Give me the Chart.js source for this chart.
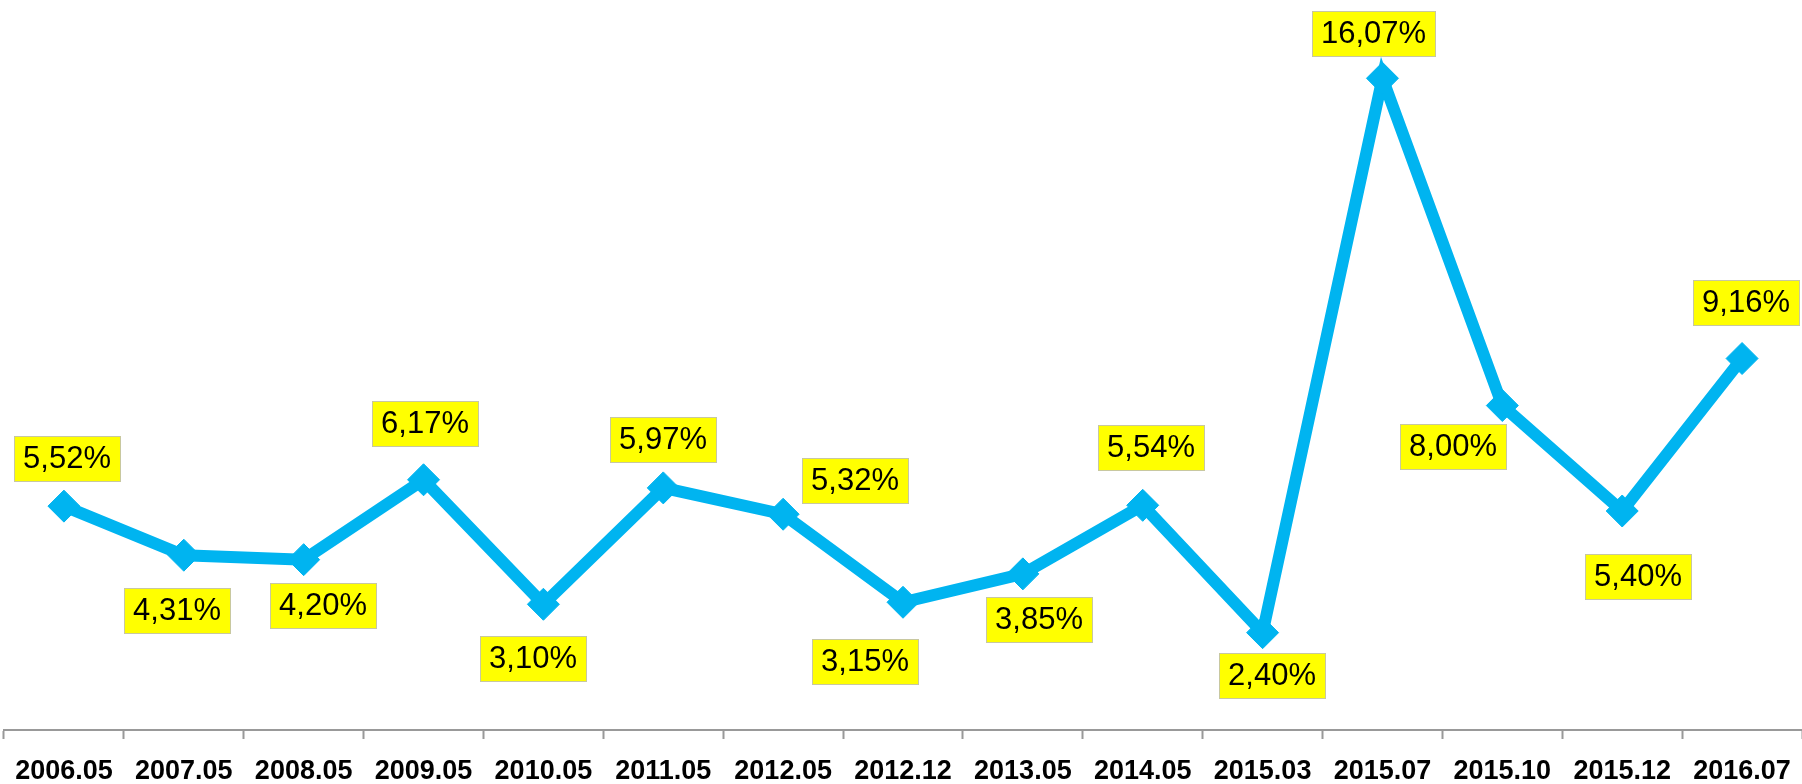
<!DOCTYPE html>
<html>
<head>
<meta charset="utf-8">
<script src="https://cdn.jsdelivr.net/npm/chart.js@4"></script>
<style>
    html, body { margin: 0; padding: 0; background: #fff; }
    canvas { display: block; }
</style>
</head>
<body>
<canvas id="rateChart" width="1802" height="784"></canvas>
<script>
// Categories (survey dates)
const periods = ['2006.05', '2007.05', '2008.05', '2009.05', '2010.05', '2011.05', '2012.05', '2012.12',
    '2013.05', '2014.05', '2015.03', '2015.07', '2015.10', '2015.12', '2016.07'];

// Values in percent
const rates = [5.52, 4.31, 4.20, 6.17, 3.10, 5.97, 5.32, 3.15, 3.85, 5.54, 2.40, 16.07, 8.00, 5.40, 9.16];

// Where each value label sits relative to its point (px)
const labelShift = [
    [3, -48], [-7, 55], [19, 46], [1, -56], [-10, 54], [0, -48], [72, -34], [-38, 59],
    [16, 46], [8, -58], [9, 43], [-9, -45], [-49, 41], [16, 65], [4, -56]
];

// Draw the yellow value boxes
const valueBoxes = {
    id: 'valueBoxes',
    afterDatasetsDraw(chart) {
        const ctx = chart.ctx;
        const meta = chart.getDatasetMeta(0);
        ctx.save();
        ctx.font = '31px "Liberation Sans", Arial, sans-serif';
        ctx.textAlign = 'center';
        ctx.textBaseline = 'middle';
        meta.data.forEach((pt, i) => {
            const text = rates[i].toFixed(2).replace('.', ',') + '%';
            const cx = pt.x + labelShift[i][0];
            const cy = pt.y + labelShift[i][1];
            const w = Math.round(ctx.measureText(text).width + 18);
            const h = 45;
            const left = Math.round(cx - w / 2);
            const top = Math.round(cy - h / 2);
            ctx.fillStyle = '#ffff00';
            ctx.fillRect(left, top, w, h);
            ctx.strokeStyle = '#c8c8a0';
            ctx.lineWidth = 1;
            ctx.strokeRect(left + 0.5, top + 0.5, w, h);
            ctx.fillStyle = '#000';
            ctx.fillText(text, left + w / 2, top + h / 2 + 1);
        });
        ctx.restore();
    }
};

new Chart(document.getElementById('rateChart'), {
    type: 'line',
    data: {
        labels: periods,
        datasets: [{
            data: rates,
            borderColor: '#00b4f0',
            backgroundColor: '#00b4f0',
            borderWidth: 12,
            pointStyle: 'rectRot',
            pointRadius: 16,
            pointBorderWidth: 1,
            pointBorderColor: '#00b4f0',
            tension: 0,
            clip: false
        }]
    },
    options: {
        responsive: false,
        animation: false,
        layout: { autoPadding: false, padding: { left: 4, right: 0, top: 0, bottom: 0 } },
        plugins: {
            legend: { display: false },
            tooltip: { enabled: false }
        },
        scales: {
            x: {
                offset: true,
                grid: {
                    offset: true,
                    drawOnChartArea: false,
                    tickLength: 9,
                    tickColor: '#999',
                    tickWidth: 2
                },
                border: { color: '#999', width: 2 },
                ticks: {
                    color: '#000',
                    padding: 18,
                    maxRotation: 0,
                    font: { family: '"Liberation Sans", Arial, sans-serif', size: 27, weight: 'bold', lineHeight: 30 / 27 }
                },
                // labels are centred in their slots, so no side padding is needed
                afterFit(scale) {
                    scale.paddingLeft = 0;
                    scale.paddingRight = 0;
                    scale.height = 54;
                }
            },
            y: {
                display: false,
                min: 0,
                max: 18
            }
        }
    },
    plugins: [valueBoxes]
});
</script>
</body>
</html>
